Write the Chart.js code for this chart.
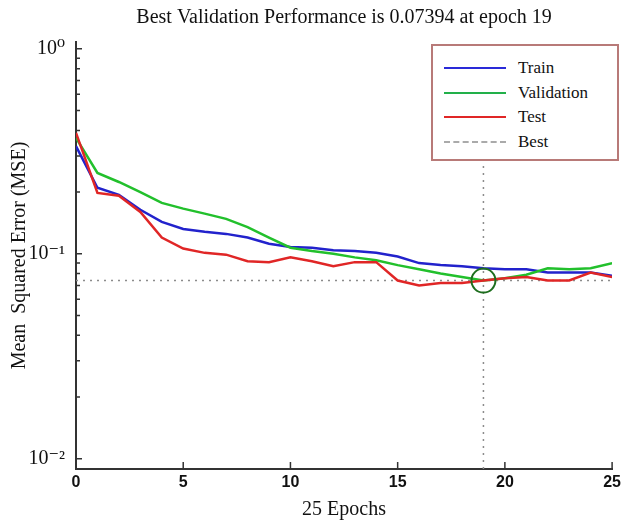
<!DOCTYPE html>
<html>
<head>
<meta charset="utf-8">
<script src="https://cdn.jsdelivr.net/npm/chart.js@4/dist/chart.umd.min.js"></script>
<style>
body{margin:0;background:#fff;}
#wrap{position:relative;width:625px;height:522px;}
#legend{position:absolute;left:431px;top:44px;width:188px;height:117px;border:2px solid #b87a78;background:#fff;font-family:"Liberation Serif","DejaVu Serif",serif;font-size:17px;color:#111;box-sizing:border-box;}
#legend .row{position:absolute;left:11px;height:20px;line-height:20px;}
#legend .sw{position:absolute;left:0;top:9px;width:62px;height:0;border-top:2px solid;}
#legend .tx{position:absolute;left:74px;top:0;white-space:nowrap;}
</style>
</head>
<body>
<div id="wrap">
<canvas id="c" width="625" height="522"></canvas>
<div id="legend"></div>
</div>
<script>
var epochs=[0,1,2,3,4,5,6,7,8,9,10,11,12,13,14,15,16,17,18,19,20,21,22,23,24,25];
var trainMse=[0.335,0.21,0.194,0.164,0.143,0.132,0.128,0.125,0.12,0.112,0.108,0.107,0.104,0.103,0.101,0.097,0.09,0.088,0.087,0.085,0.084,0.084,0.081,0.081,0.081,0.078];
var valMse=[0.368,0.248,0.224,0.2,0.177,0.166,0.157,0.148,0.135,0.12,0.107,0.103,0.1,0.096,0.093,0.088,0.084,0.08,0.077,0.07394,0.076,0.079,0.085,0.084,0.085,0.09];
var testMse=[0.389,0.198,0.192,0.16,0.12,0.106,0.101,0.099,0.092,0.091,0.096,0.092,0.087,0.091,0.091,0.074,0.07,0.072,0.072,0.074,0.076,0.077,0.074,0.074,0.081,0.077];
var bestEpoch=19, bestVal=0.07394;
var yTicks=[0.01,0.1,1];
var yTickLabels=['10\u207B\u00B2','10\u207B\u00B9','10\u2070'];
var xTicks=[0,5,10,15,20,25];
var yMin=0.0089, yMax=1.08;

var SERIF='"Liberation Serif","DejaVu Serif",serif';

function pts(ys){return epochs.map(function(e,i){return {x:e,y:ys[i]};});}

// legend (html, sits over the plot like the matlab one)
var legItems=[['Train','#2a2ad8','solid'],['Validation','#22b04a','solid'],['Test','#e02626','solid'],['Best','#aaaaaa','dashed']];
var leg=document.getElementById('legend');
legItems.forEach(function(it,i){
    var r=document.createElement('div');
    r.className='row';
    r.style.top=(12+i*24.5)+'px';
    r.innerHTML='<span class="sw" style="border-top-color:'+it[1]+';border-top-style:'+it[2]+'"></span><span class="tx">'+it[0]+'</span>';
    leg.appendChild(r);
});

// inner tick marks, matlab style
var innerTicks={
    id:'innerTicks',
    afterDraw:function(chart){
        var ctx=chart.ctx, ca=chart.chartArea, xs=chart.scales.x, ys=chart.scales.y;
        ctx.save();
        ctx.strokeStyle='#333';
        ctx.lineWidth=1.5;
        ctx.beginPath();
        [0.01,0.1].forEach(function(d){
            for(var k=1;k<=9;k++){
                var py=ys.getPixelForValue(k*d);
                var len=(k===1)?6:4;
                ctx.moveTo(ca.left,py);ctx.lineTo(ca.left+len,py);
            }
        });
        var p1=ys.getPixelForValue(1);
        ctx.moveTo(ca.left,p1);ctx.lineTo(ca.left+6,p1);
        xTicks.forEach(function(v){
            var px=xs.getPixelForValue(v);
            ctx.moveTo(px,ca.bottom);ctx.lineTo(px,ca.bottom-7);
        });
        ctx.stroke();
        ctx.restore();
    }
};

new Chart(document.getElementById('c'),{
    type:'line',
    data:{datasets:[
        {label:'Test',data:pts(testMse),borderColor:'#e02626',borderWidth:2.5,pointRadius:0,tension:0,order:1},
        {label:'Validation',data:pts(valMse),borderColor:'#22c02c',borderWidth:2.5,pointRadius:0,tension:0,order:2},
        {label:'Train',data:pts(trainMse),borderColor:'#2222cc',borderWidth:2.5,pointRadius:0,tension:0,order:3},
        {label:'BestH',data:[{x:epochs[0],y:bestVal},{x:epochs[epochs.length-1],y:bestVal}],borderColor:'#8c8c8c',borderWidth:1.5,borderDash:[2,5],pointRadius:0,order:5},
        {label:'BestV',data:[{x:bestEpoch,y:yMin},{x:bestEpoch,y:yMax}],borderColor:'#8c8c8c',borderWidth:1.5,borderDash:[2,5],pointRadius:0,order:5},
        {label:'BestPt',data:[{x:bestEpoch,y:bestVal}],showLine:false,pointRadius:12,pointBorderWidth:2,pointBorderColor:'#1e6e1e',pointBackgroundColor:'rgba(0,0,0,0)',order:0}
    ]},
    options:{
        responsive:false,animation:false,
        layout:{autoPadding:false,padding:{left:0,right:10,top:0,bottom:0}},
        plugins:{
            legend:{display:false},
            tooltip:{enabled:false},
            title:{display:true,fullSize:false,text:'Best Validation Performance is 0.07394 at epoch 19',color:'#111',font:{family:SERIF,size:20,weight:'normal'},padding:{top:6,bottom:12}}
        },
        scales:{
            x:{type:'linear',min:0,max:25,
                afterFit:function(s){s.height=53;},
                afterBuildTicks:function(s){s.ticks=xTicks.map(function(v){return {value:v};});},
                grid:{display:false,drawTicks:false},
                border:{display:true,color:'#333',width:2},
                ticks:{padding:4,color:'#111',font:{family:'"Liberation Sans Narrow","Liberation Sans",sans-serif',size:16,weight:'bold'}},
                title:{display:true,text:'25 Epochs',color:'#111',font:{family:SERIF,size:20},padding:{top:0,bottom:0}}
            },
            y:{type:'logarithmic',min:yMin,max:yMax,
                afterFit:function(s){s.width=76;},
                afterBuildTicks:function(s){s.ticks=yTicks.map(function(v){return {value:v};});},
                grid:{display:false,drawTicks:false},
                border:{display:true,color:'#333',width:2},
                ticks:{padding:11,autoSkip:false,color:'#111',font:{family:SERIF,size:20},
                    callback:function(v){var i=yTicks.indexOf(v);return i>=0?yTickLabels[i]:'';}},
                title:{display:true,text:'Mean  Squared Error (MSE)',color:'#111',font:{family:SERIF,size:20},padding:{top:8,bottom:0}}
            }
        }
    },
    plugins:[innerTicks]
});
</script>
</body>
</html>
